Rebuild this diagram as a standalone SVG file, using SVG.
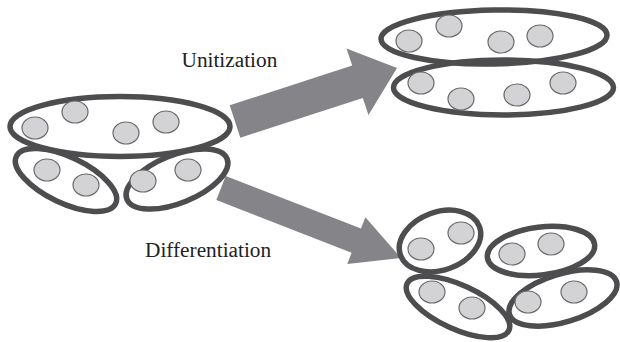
<svg xmlns="http://www.w3.org/2000/svg" width="620" height="342" viewBox="0 0 620 342">
<style>
.grp{fill:none;stroke:#4d4d4f;stroke-width:5.5}
.dot{fill:#d3d3d5;stroke:#6a6a6c;stroke-width:1.2}
.arrow{fill:#858589;stroke:none}
.lbl{font-family:"Liberation Serif","Times New Roman",serif;font-size:21.3px;fill:#222}
</style>
<rect width="620" height="342" fill="#fff"/>
<g id="connectors">
<polygon class="arrow" points="229.7,105.3 352.2,65.5 346.5,48.4 397,68 368.5,115 362.8,97.9 240.3,137.7"/>
<polygon class="arrow" points="225.7,175.9 361,228.5 365.4,217.3 401,258 347.3,263.9 351.6,252.7 216.3,200.1"/>
</g>
<g id="label-unitization"><text class="lbl" x="181.5" y="67">Unitization</text></g>
<g id="label-differentiation"><text class="lbl" x="145" y="257">Differentiation</text></g>
<g id="source-big">
<ellipse class="grp" cx="120" cy="126.5" rx="110" ry="30"/>
<ellipse class="dot" cx="35" cy="128" rx="13" ry="11"/>
<ellipse class="dot" cx="75" cy="112" rx="13" ry="11"/>
<ellipse class="dot" cx="126" cy="133" rx="13" ry="11"/>
<ellipse class="dot" cx="166" cy="122" rx="13" ry="11"/>
</g>
<g id="source-left">
<ellipse class="grp" cx="66" cy="180" rx="55" ry="23" transform="rotate(25.5 66 180)"/>
<ellipse class="dot" cx="47" cy="170" rx="13" ry="11"/>
<ellipse class="dot" cx="86" cy="185" rx="13" ry="11"/>
</g>
<g id="source-right">
<ellipse class="grp" cx="177" cy="179" rx="54" ry="24" transform="rotate(-22 177 179)"/>
<ellipse class="dot" cx="143" cy="181" rx="13" ry="11"/>
<ellipse class="dot" cx="188" cy="170" rx="13" ry="11"/>
</g>
<g id="unit-top">
<ellipse class="grp" cx="494" cy="37" rx="113" ry="27" transform="rotate(-1 494 37)"/>
<ellipse class="dot" cx="409" cy="41" rx="13" ry="11"/>
<ellipse class="dot" cx="449" cy="26" rx="13" ry="11"/>
<ellipse class="dot" cx="501" cy="42" rx="13" ry="11"/>
<ellipse class="dot" cx="540" cy="36" rx="13" ry="11"/>
</g>
<g id="unit-bottom">
<ellipse class="grp" cx="503.5" cy="87.5" rx="110" ry="27.5"/>
<ellipse class="dot" cx="421" cy="83" rx="13" ry="11"/>
<ellipse class="dot" cx="461" cy="99" rx="13" ry="11"/>
<ellipse class="dot" cx="517" cy="95" rx="13" ry="11"/>
<ellipse class="dot" cx="563" cy="83" rx="13" ry="11"/>
</g>
<g id="diff-a">
<ellipse class="grp" cx="440" cy="241" rx="42" ry="29" transform="rotate(-20 440 241)"/>
<ellipse class="dot" cx="421" cy="249" rx="13" ry="11"/>
<ellipse class="dot" cx="461" cy="233" rx="13" ry="11"/>
</g>
<g id="diff-b">
<ellipse class="grp" cx="541" cy="251" rx="54" ry="24" transform="rotate(-7 541 251)"/>
<ellipse class="dot" cx="512" cy="254" rx="13" ry="11"/>
<ellipse class="dot" cx="551" cy="244" rx="13" ry="11"/>
</g>
<g id="diff-c">
<ellipse class="grp" cx="458" cy="307" rx="56" ry="22" transform="rotate(24.6 458 307)"/>
<ellipse class="dot" cx="432" cy="292" rx="13" ry="11"/>
<ellipse class="dot" cx="472" cy="308" rx="13" ry="11"/>
</g>
<g id="diff-d">
<ellipse class="grp" cx="563" cy="298" rx="56" ry="24" transform="rotate(-17 563 298)"/>
<ellipse class="dot" cx="528" cy="302" rx="13" ry="11"/>
<ellipse class="dot" cx="574" cy="292" rx="13" ry="11"/>
</g>
</svg>
